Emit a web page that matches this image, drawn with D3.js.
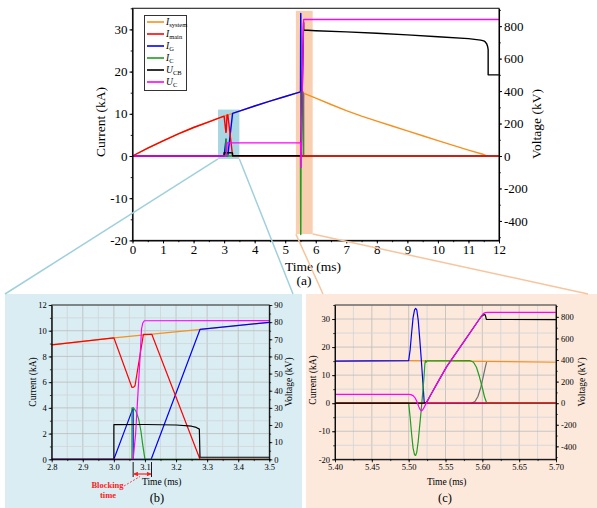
<!DOCTYPE html>
<html>
<head>
<meta charset="utf-8">
<script src="https://cdn.jsdelivr.net/npm/d3@7"></script>
<style>
  body { margin: 0; background: #fff; }
  svg { display: block; }
  svg text { font-family: 'Liberation Serif'; }
</style>
</head>
<body>
<div id="chart"></div>
<script>
// ---- data: [time (ms), value] ; currents in kA, voltages in kV ----
const iSystem = [[0,0],[0.5,1.85],[1,3.6],[1.5,5.25],[2,6.75],[2.5,8.1],[2.8,8.9],[3.0,9.45],[3.28,10.1],[3.5,10.65],
  [4,11.85],[4.5,13.0],[5,14.1],[5.5,15.2],[5.6,14.9],[5.7,14.6],[6,13.7],[6.5,12.2],[7,10.75],[7.5,9.45],[8,8.25],
  [8.5,7.1],[9,5.95],[9.5,4.8],[10,3.65],[10.5,2.5],[11,1.4],[11.5,0.35],[11.6,0]];
const iMain = [[0,0],[0.5,1.85],[1,3.6],[1.5,5.25],[2,6.75],[2.5,8.1],[2.8,8.9],[3.0,9.45],[3.058,5.6],[3.064,5.62],
  [3.068,5.72],[3.095,9.72],[3.122,9.72],[3.277,0],[12,0]];
const iG = [[0,0],[3.0,0],[3.062,4.0],[3.0622,0],[3.12,0],[3.277,10.1],[3.5,10.65],[4,11.85],[4.5,13.0],[5,14.1],
  [5.5,15.2],[5.502,19],[5.504,25],[5.506,30.5],[5.508,33.3],[5.5095,33.8],[5.511,33.3],[5.513,29.5],[5.515,23],
  [5.517,16],[5.519,8.5],[5.5212,0],[12,0]];
const iC = [[0,0],[3.058,0],[3.0582,4.0],[3.065,3.95],[3.072,3.7],[3.08,3.1],[3.087,2.2],[3.093,1.1],[3.1,0],[5.5,0],
  [5.502,-5],[5.504,-11],[5.506,-16],[5.508,-18.4],[5.5095,-18.6],[5.511,-17.5],[5.513,-13.5],[5.515,-8],[5.517,-2.5],
  [5.519,3.5],[5.521,10],[5.522,14],[5.5228,15.2],[5.5238,14.6],[5.525,15.1],[5.583,15.2],[5.588,14.6],[5.592,12.8],
  [5.596,9.5],[5.6,5.5],[5.603,2.2],[5.606,0],[12,0]];
const iArrester = [[5.585,0],[5.59,0.6],[5.594,2.4],[5.598,5.7],[5.601,9.2],[5.604,12.8],[5.606,14.9]];
const uCB = [[0,0],[3.0,0],[3.0,20.2],[3.1,20.3],[3.2,20.0],[3.25,19.3],[3.265,18.6],[3.275,17.6],[3.277,1.2],
  [5.5,1.2],[5.52,0.3],[5.524,5],[5.527,40],[5.53,78],[5.54,200],[5.5516,339],[5.575,570],[5.5968,787],[5.599,806],
  [5.6015,818],[5.6035,822],[5.6045,805],[5.6055,776],[6,772],[7,765],[8,756],[9,746],[10,735],[11,723],[11.4,714],
  [11.5,709],[11.55,703],[11.6,690],[11.63,673],[11.645,655],[11.645,500],[12,500]];
const uC = [[0,0],[3.062,0],[3.07,15],[3.078,40],[3.085,62],[3.089,76],[3.093,79.5],[3.098,80.8],[5.5,81],
  [5.503,79],[5.506,70],[5.509,46],[5.5115,10],[5.5136,-31],[5.5155,-58],[5.517,-71],[5.5185,-66],[5.5204,-46],
  [5.5225,-18],[5.525,15],[5.53,78],[5.54,200],[5.5516,339],[5.575,570],[5.5968,787],[5.599,810],[5.6013,830],
  [5.604,839],[5.607,841],[12,841]];

// tick labels
const timeTicksA = [0,1,2,3,4,5,6,7,8,9,10,11,12];
const currentTicksA = [-20,-10,0,10,20,30];
const voltageTicksA = [-400,-200,0,200,400,600,800];
const timeTicksB = [2.8,2.9,3.0,3.1,3.2,3.3,3.4,3.5];
const currentTicksB = [0,2,4,6,8,10,12];
const voltageTicksB = [0,10,20,30,40,50,60,70,80,90];
const timeTicksC = [5.40,5.45,5.50,5.55,5.60,5.65,5.70];

// zoomed windows (time ms, current kA) and blocking interval
const zoomB = { t: [2.8, 3.5], i: [-0.7, 11] };
const zoomC = { t: [5.35, 5.9], i: [-18.5, 34.4] };
const blockingTime = [3.062, 3.121];

// drawing order: bottom first
const series = [
  { data: iArrester, axis: 'I', color: '#6f6f6f' },
  { data: iSystem, axis: 'I', color: '#f7901e', sym: 'I', sub: 'system', leg: 0 },
  { data: iG, axis: 'I', color: '#0000ff', sym: 'I', sub: 'G', leg: 2 },
  { data: iC, axis: 'I', color: '#1f9e1f', sym: 'I', sub: 'C', leg: 3 },
  { data: iMain, axis: 'I', color: '#ff0000', sym: 'I', sub: 'main', leg: 1 },
  { data: uCB, axis: 'U', color: '#000000', sym: 'U', sub: 'CB', leg: 4 },
  { data: uC, axis: 'U', color: '#ff00ff', sym: 'U', sub: 'C', leg: 5 }
];

const FONT = 'Liberation Serif';
const W = 597, H = 508;
const svg = d3.select('#chart').append('svg').attr('width', W).attr('height', H)
  .attr('font-family', FONT);
const defs = svg.append('defs');

// panel backgrounds
svg.append('rect').attr('x', 5).attr('y', 294).attr('width', 297).attr('height', 214).attr('fill', '#d9edf3');
svg.append('rect').attr('x', 306).attr('y', 294).attr('width', 291).attr('height', 214).attr('fill', '#fce9dc');

function steps(dom, step) {
  const out = [];
  const s = Math.ceil(dom[0] / step - 1e-9);
  for (let k = s; k * step <= dom[1] + 1e-9; k++) out.push(+(k * step).toFixed(6));
  return out;
}

function drawPanel(p) {
  const x = d3.scaleLinear().domain(p.tDom).range([p.left, p.right]);
  const yI = d3.scaleLinear().domain(p.iDom).range([p.bottom, p.top]);
  const yU = d3.scaleLinear().domain(p.uDom).range([p.bottom, p.top]);
  const g = svg.append('g');

  defs.append('clipPath').attr('id', 'clip-' + p.id).append('rect')
    .attr('x', p.left).attr('y', p.top).attr('width', p.right - p.left).attr('height', p.bottom - p.top);

  if (p.grid) {
    const gg = g.append('g');
    steps(p.tDom, p.gridT).forEach((t, k) => {
      gg.append('line').attr('x1', x(t)).attr('x2', x(t)).attr('y1', p.top).attr('y2', p.bottom)
        .attr('stroke', k % 2 === 0 ? '#bdbdbd' : '#d2d6d8').attr('stroke-width', 1).attr('opacity', 0.8);
    });
    steps(p.iDom, p.gridI).forEach(v => {
      const major = Math.abs(v / p.gridI) % 2 === 0;
      gg.append('line').attr('x1', p.left).attr('x2', p.right).attr('y1', yI(v)).attr('y2', yI(v))
        .attr('stroke', major ? '#bdbdbd' : '#d2d6d8').attr('stroke-width', 1).attr('opacity', 0.8);
    });
  }

  if (p.highlights) {
    p.highlights.forEach(h => {
      g.append('rect').attr('x', x(h.t[0])).attr('y', yI(h.i[1]))
        .attr('width', x(h.t[1]) - x(h.t[0])).attr('height', yI(h.i[0]) - yI(h.i[1]))
        .attr('fill', h.color);
    });
  }

  const lg = g.append('g').attr('clip-path', `url(#clip-${p.id})`);
  series.forEach(s => {
    const y = s.axis === 'U' ? yU : yI;
    lg.append('path').datum(s.data)
      .attr('d', d3.line().x(d => x(d[0])).y(d => y(d[1])))
      .attr('fill', 'none').attr('stroke', s.color).attr('stroke-width', p.lw)
      .attr('stroke-linejoin', 'round');
  });

  // frame
  g.append('rect').attr('x', p.left).attr('y', p.top).attr('width', p.right - p.left).attr('height', p.bottom - p.top)
    .attr('fill', 'none').attr('stroke', '#222').attr('stroke-width', p.aw);

  const styleAxis = sel => {
    sel.attr('font-family', FONT).attr('font-size', p.fs);
    sel.select('.domain').attr('stroke-width', p.aw);
    sel.selectAll('.tick line').attr('stroke-width', p.aw * 0.9);
  };
  const minor = sel => { sel.select('.domain').remove(); sel.selectAll('.tick line').attr('stroke-width', p.aw * 0.8); };

  g.append('g').attr('transform', `translate(0,${p.bottom})`)
    .call(d3.axisBottom(x).tickValues(steps(p.tDom, p.minorT)).tickFormat('').tickSize(1.8).tickSizeOuter(0)).call(minor);
  g.append('g').attr('transform', `translate(0,${p.bottom})`)
    .call(d3.axisBottom(x).tickValues(p.tTicks).tickFormat(p.tFmt).tickSize(3).tickPadding(p.padX).tickSizeOuter(0))
    .call(styleAxis);

  g.append('g').attr('transform', `translate(${p.left},0)`)
    .call(d3.axisLeft(yI).tickValues(steps(p.iDom, p.minorI)).tickFormat('').tickSize(1.8).tickSizeOuter(0)).call(minor);
  g.append('g').attr('transform', `translate(${p.left},0)`)
    .call(d3.axisLeft(yI).tickValues(p.iTicks).tickFormat(d => String(d)).tickSize(3).tickPadding(p.padY).tickSizeOuter(0))
    .call(styleAxis);

  g.append('g').attr('transform', `translate(${p.right},0)`)
    .call(d3.axisRight(yU).tickValues(steps(p.uDom, p.minorU)).tickFormat('').tickSize(1.8).tickSizeOuter(0)).call(minor);
  g.append('g').attr('transform', `translate(${p.right},0)`)
    .call(d3.axisRight(yU).tickValues(p.uTicks).tickFormat(d => String(d)).tickSize(3).tickPadding(p.padY).tickSizeOuter(0))
    .call(styleAxis);

  // titles
  const t = p.titles;
  g.append('text').attr('x', t.time[0]).attr('y', t.time[1]).attr('text-anchor', 'middle')
    .attr('font-size', p.tfs).text('Time (ms)');
  g.append('text').attr('x', t.tag[0]).attr('y', t.tag[1]).attr('text-anchor', 'middle')
    .attr('font-size', p.tagfs).text(t.tagText);
  g.append('text').attr('transform', `translate(${t.cur[0]},${t.cur[1]}) rotate(-90)`).attr('dy', '0.35em')
    .attr('text-anchor', 'middle').attr('font-size', p.tfs).text('Current (kA)');
  g.append('text').attr('transform', `translate(${t.vol[0]},${t.vol[1]}) rotate(-90)`).attr('dy', '0.35em')
    .attr('text-anchor', 'middle').attr('font-size', p.tfs).text('Voltage (kV)');

  return { x, yI, yU, g };
}

const A = drawPanel({
  id: 'a', left: 132.5, right: 499, top: 8.3, bottom: 240.4,
  tDom: [0, 12], iDom: [-20, 35], uDom: [-520, 910],
  tTicks: timeTicksA, iTicks: currentTicksA, uTicks: voltageTicksA, tFmt: d => String(d),
  minorT: 0.5, minorI: 5, minorU: 100, lw: 1.4, aw: 1.1, fs: 13, tfs: 13.5, tagfs: 13.5, padX: 1, padY: 2,
  highlights: [Object.assign({ color: '#a9d6e3' }, zoomB), Object.assign({ color: '#f9cfb1' }, zoomC)],
  titles: { time: [313, 271], tag: [304, 285], tagText: '(a)', cur: [100, 122], vol: [536, 124] }
});

const B = drawPanel({
  id: 'b', left: 51.7, right: 269.3, top: 305, bottom: 459.3,
  tDom: [2.8, 3.5], iDom: [0, 12], uDom: [0, 90],
  tTicks: timeTicksB, iTicks: currentTicksB, uTicks: voltageTicksB, tFmt: d3.format('.1f'),
  minorT: 0.05, minorI: 1, minorU: 5, lw: 1.2, aw: 0.9, fs: 8.5, tfs: 9.5, tagfs: 12.5, padX: 1.5, padY: 2,
  grid: true, gridT: 0.05, gridI: 1,
  titles: { time: [161.7, 485], tag: [157, 502], tagText: '(b)', cur: [33, 382], vol: [289, 382] }
});

const C = drawPanel({
  id: 'c', left: 335, right: 556, top: 305, bottom: 459.3,
  tDom: [5.4, 5.7], iDom: [-20, 35], uDom: [-520, 910],
  tTicks: timeTicksC, iTicks: currentTicksA, uTicks: voltageTicksA, tFmt: d3.format('.2f'),
  minorT: 0.025, minorI: 5, minorU: 100, lw: 1.2, aw: 0.9, fs: 8.5, tfs: 9.5, tagfs: 12.5, padX: 1.5, padY: 2,
  grid: true, gridT: 0.025, gridI: 5,
  titles: { time: [446.7, 485], tag: [445, 502], tagText: '(c)', cur: [313, 380], vol: [582, 382] }
});

// legend
const leg = svg.append('g');
leg.append('rect').attr('x', 144.5).attr('y', 15.5).attr('width', 42).attr('height', 75)
  .attr('fill', '#fff').attr('stroke', '#333').attr('stroke-width', 1);
series.filter(s => s.sym).sort((a, b) => a.leg - b.leg).forEach((s, k) => {
  const y = 22 + k * 12;
  leg.append('line').attr('x1', 147).attr('x2', 164).attr('y1', y).attr('y2', y)
    .attr('stroke', s.color).attr('stroke-width', 1.6);
  const tx = leg.append('text').attr('x', 166).attr('y', y + 3).attr('font-size', 9.5);
  tx.append('tspan').attr('font-style', 'italic').text(s.sym);
  tx.append('tspan').attr('font-size', 6.5).attr('dy', 2).text(s.sub);
});

// zoom connector lines
const conn = svg.append('g').attr('stroke-width', 1.5).attr('fill', 'none');
[[zoomB.t[0], 5], [zoomB.t[1], 293]].forEach(([t, px]) => {
  conn.append('line').attr('x1', A.x(t)).attr('y1', A.yI(zoomB.i[0])).attr('x2', px).attr('y2', 294)
    .attr('stroke', '#9fd0dc');
});
[[zoomC.t[0], 323], [zoomC.t[1], 588]].forEach(([t, px]) => {
  conn.append('line').attr('x1', A.x(t)).attr('y1', A.yI(zoomC.i[0])).attr('x2', px).attr('y2', 294)
    .attr('stroke', '#f7c49c');
});

// blocking time annotation in (b)
defs.append('marker').attr('id', 'arrR').attr('viewBox', '0 0 10 10').attr('refX', 9).attr('refY', 5)
  .attr('markerWidth', 4).attr('markerHeight', 4).attr('orient', 'auto-start-reverse')
  .append('path').attr('d', 'M0,0L10,5L0,10z').attr('fill', '#ff2020');
const bt = svg.append('g');
blockingTime.forEach(t => {
  bt.append('line').attr('x1', B.x(t)).attr('x2', B.x(t)).attr('y1', 462).attr('y2', 477)
    .attr('stroke', '#000').attr('stroke-width', 0.9);
});
bt.append('line').attr('x1', B.x(blockingTime[0]) + 0.5).attr('x2', B.x(blockingTime[1]) - 0.5)
  .attr('y1', 474).attr('y2', 474).attr('stroke', '#ff2020').attr('stroke-width', 1.2)
  .attr('marker-start', 'url(#arrR)').attr('marker-end', 'url(#arrR)');
bt.append('line').attr('x1', 124).attr('y1', 486).attr('x2', 140).attr('y2', 476.5)
  .attr('stroke', '#ff2020').attr('stroke-width', 0.8).attr('stroke-dasharray', '2,1.5');
bt.append('text').attr('x', 107.5).attr('y', 488).attr('text-anchor', 'middle').attr('font-size', 8.5)
  .attr('font-weight', 'bold').attr('fill', '#ff2020').text('Blocking');
bt.append('text').attr('x', 108).attr('y', 497.5).attr('text-anchor', 'middle').attr('font-size', 8.5)
  .attr('font-weight', 'bold').attr('fill', '#ff2020').text('time');
</script>
</body>
</html>
